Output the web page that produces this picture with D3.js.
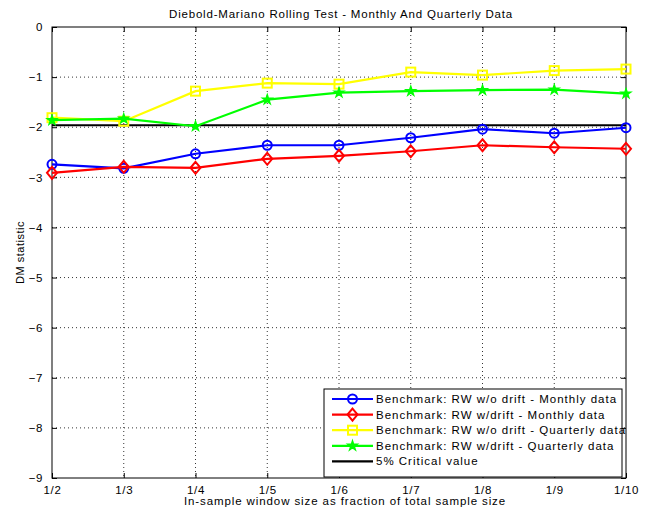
<!DOCTYPE html>
<html><head><meta charset="utf-8">
<script src="https://cdn.jsdelivr.net/npm/d3@7"></script>
<style>body{margin:0;background:#fff;} text{font-family:"Liberation Sans",Arial,sans-serif;}</style>
</head><body><svg id="c" width="649" height="514"></svg>
<script>
const categories = ["1/2","1/3","1/4","1/5","1/6","1/7","1/8","1/9","1/10"];
const rwNoDriftMonthly = [-2.74,-2.82,-2.53,-2.36,-2.36,-2.21,-2.04,-2.12,-2.01];
const rwDriftMonthly   = [-2.91,-2.79,-2.81,-2.63,-2.57,-2.48,-2.36,-2.40,-2.43];
const rwNoDriftQuarterly = [-1.81,-1.88,-1.28,-1.12,-1.14,-0.90,-0.96,-0.87,-0.84];
const rwDriftQuarterly   = [-1.86,-1.83,-1.98,-1.45,-1.31,-1.28,-1.26,-1.25,-1.33];
const criticalValue = -1.96;
const yTicks = [0,-1,-2,-3,-4,-5,-6,-7,-8,-9];
const seriesNames = ["Benchmark: RW w/o drift - Monthly data","Benchmark: RW w/drift - Monthly data","Benchmark: RW w/o drift - Quarterly data","Benchmark: RW w/drift - Quarterly data","5% Critical value"];

const svg = d3.select("#c");
const L=52,R=626,T=27,B=478;
const x = d3.scalePoint().domain(categories).range([L,R]);
const y = d3.scaleLinear().domain([-9,0]).range([B,T]);

// grid
const g = svg.append("g");
categories.forEach((c,i)=>{ if(i>0&&i<categories.length-1) g.append("line").attr("x1",x(c)).attr("x2",x(c)).attr("y1",T).attr("y2",B).attr("stroke","#000").attr("stroke-width",0.8).attr("stroke-dasharray","1,3");});
yTicks.forEach(t=>{ if(t!==0&&t!==-9) g.append("line").attr("x1",L).attr("x2",R).attr("y1",y(t)).attr("y2",y(t)).attr("stroke","#000").attr("stroke-width",0.8).attr("stroke-dasharray","1,3");});

// axes
const xa = svg.append("g").attr("transform",`translate(0,${B})`).call(d3.axisBottom(x).tickSize(-5).tickPadding(8));
const xt = svg.append("g").attr("transform",`translate(0,${T})`).call(d3.axisTop(x).tickSize(-5).tickFormat(""));
const ya = svg.append("g").attr("transform",`translate(${L},0)`).call(d3.axisLeft(y).tickValues(yTicks).tickFormat(d3.format("d")).tickSize(-5).tickPadding(9));
const yr = svg.append("g").attr("transform",`translate(${R},0)`).call(d3.axisRight(y).tickValues(yTicks).tickSize(-5).tickFormat(""));
[xa,xt,ya,yr].forEach(a=>{a.select(".domain").remove(); a.selectAll("line").attr("stroke","#000"); a.selectAll("text").attr("font-size",11.5).attr("letter-spacing",0.6).attr("fill","#000").style("font-family","Liberation Sans, Arial, sans-serif");});
svg.append("rect").attr("x",L).attr("y",T).attr("width",R-L).attr("height",B-T).attr("fill","none").attr("stroke","#000").attr("stroke-width",1);

// critical line
svg.append("line").attr("x1",L).attr("x2",R).attr("y1",y(criticalValue)).attr("y2",y(criticalValue)).attr("stroke","#000").attr("stroke-width",2);

const series = [
 {vals:rwNoDriftMonthly,color:"#0000ff",marker:"circle"},
 {vals:rwDriftMonthly,color:"#ff0000",marker:"diamond"},
 {vals:rwNoDriftQuarterly,color:"#ffff00",marker:"square"},
 {vals:rwDriftQuarterly,color:"#00ff00",marker:"star"}
];
const line = d3.line().x((d,i)=>x(categories[i])).y(d=>y(d));
function drawMarker(sel,type,cx,cy,color){
  if(type==="circle") sel.append("circle").attr("cx",cx).attr("cy",cy).attr("r",4.5).attr("fill","none").attr("stroke",color).attr("stroke-width",2);
  else if(type==="diamond") sel.append("path").attr("d",`M${cx},${cy-6}L${cx+5},${cy}L${cx},${cy+6}L${cx-5},${cy}Z`).attr("fill","none").attr("stroke",color).attr("stroke-width",2);
  else if(type==="square") sel.append("rect").attr("x",cx-4.5).attr("y",cy-4.5).attr("width",9).attr("height",9).attr("fill","none").attr("stroke",color).attr("stroke-width",2);
  else if(type==="star") sel.append("path").attr("d",d3.symbol().type(d3.symbolStar).size(26)()).attr("transform",`translate(${cx},${cy})`).attr("fill",color).attr("stroke",color).attr("stroke-width",1.5);
}
series.forEach(s=>{
  svg.append("path").datum(s.vals).attr("d",line).attr("fill","none").attr("stroke",s.color).attr("stroke-width",2.2);
  const mg = svg.append("g");
  s.vals.forEach((v,i)=>drawMarker(mg,s.marker,x(categories[i]),y(v),s.color));
});

// legend
const lg = svg.append("g");
lg.append("rect").attr("x",324).attr("y",389).attr("width",298).attr("height",88).attr("fill","#fff").attr("stroke","#000").attr("stroke-width",1);
const legColors=["#0000ff","#ff0000","#ffff00","#00ff00","#000"];
const legMarkers=["circle","diamond","square","star",null];
seriesNames.forEach((n,i)=>{
  const ly = 399 + i*15.6;
  lg.append("line").attr("x1",332).attr("x2",373).attr("y1",ly).attr("y2",ly).attr("stroke",legColors[i]).attr("stroke-width",2.2);
  if(legMarkers[i]) drawMarker(lg,legMarkers[i],352.5,ly,legColors[i]);
  lg.append("text").attr("x",376).attr("y",ly+4).attr("font-size",11.5).attr("letter-spacing",1).attr("fill","#000").text(n);
});

// labels
svg.append("text").attr("x",(L+R)/2+2).attr("y",18).attr("text-anchor","middle").attr("font-size",11.5).attr("letter-spacing",0.8).text("Diebold-Mariano Rolling Test - Monthly And Quarterly Data");
svg.append("text").attr("x",(L+R)/2+6).attr("y",505).attr("text-anchor","middle").attr("font-size",11.5).attr("letter-spacing",0.9).text("In-sample window size as fraction of total sample size");
svg.append("text").attr("transform",`translate(24,${(T+B)/2}) rotate(-90)`).attr("text-anchor","middle").attr("font-size",11).attr("letter-spacing",0.5).text("DM statistic");
</script></body></html>
